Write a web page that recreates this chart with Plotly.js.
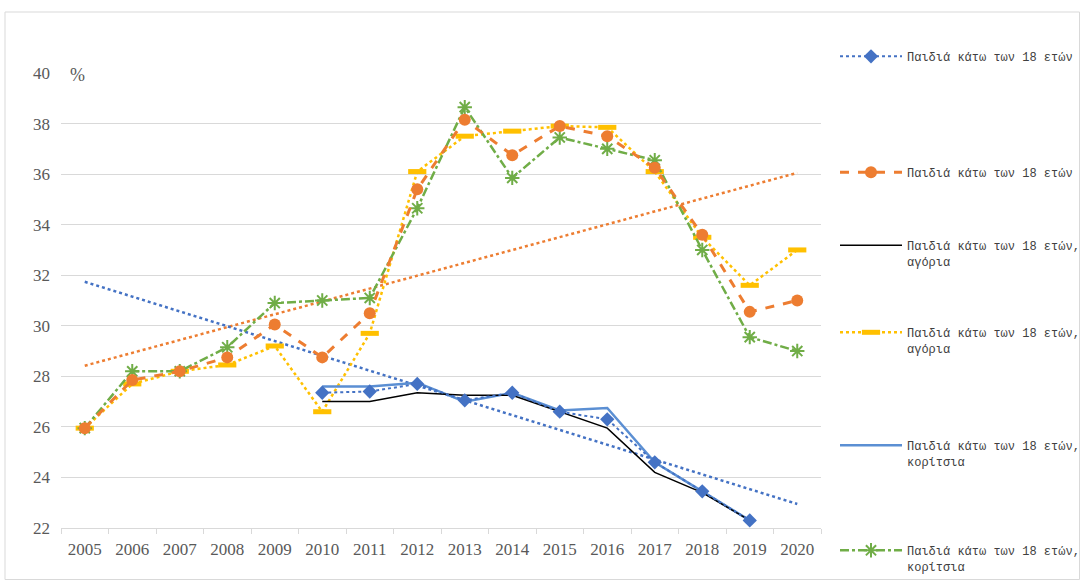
<!DOCTYPE html>
<html><head><meta charset="utf-8">
<script src="https://cdn.plot.ly/plotly-3.0.1.min.js"></script>
<style>html,body{margin:0;padding:0;background:#fff;}#chart{width:1080px;height:580px;}</style>
</head><body><div id="chart"></div>
<script>
const years = ['2005','2006','2007','2008','2009','2010','2011','2012','2013','2014','2015','2016','2017','2018','2019','2020'];
const yearsSub = ['2010','2011','2012','2013','2014','2015','2016','2017','2018','2019'];
const trendYears = ['2005','2020'];

const childrenTotal = [27.35, 27.4, 27.7, 27.05, 27.35, 26.6, 26.3, 24.6, 23.45, 22.3];
const childrenTotal2 = [25.95, 27.85, 28.2, 28.75, 30.05, 28.75, 30.5, 35.4, 38.15, 36.75, 37.9, 37.5, 36.25, 33.6, 30.55, 31.0];
const boysA = [27.0, 27.0, 27.35, 27.25, 27.25, 26.6, 25.95, 24.2, 23.4, 22.3];
const boysB = [25.95, 27.7, 28.2, 28.45, 29.2, 26.6, 29.7, 36.1, 37.5, 37.7, 37.9, 37.85, 36.1, 33.5, 31.6, 33.0];
const girlsA = [27.6, 27.6, 27.75, 27.0, 27.35, 26.65, 26.75, 24.6, 23.45, 22.3];
const girlsB = [25.95, 28.2, 28.2, 29.15, 30.9, 31.0, 31.1, 34.65, 38.65, 35.85, 37.45, 37.0, 36.55, 33.0, 29.55, 29.0];
const trendBlue = [31.74, 22.95];
const trendOrange = [28.42, 36.05];

const name1 = 'Παιδιά κάτω των 18 ετών';
const name3 = 'Παιδιά κάτω των 18 ετών,<br>αγόρια';
const name5 = 'Παιδιά κάτω των 18 ετών,<br>κορίτσια';

const cBlue = '#4472C4', cOrange = '#ED7D31', cYellow = '#FFC000', cGreen = '#70AD47', cBlue2 = '#5B8FD3';

const traces = [
  {x: trendYears, y: trendOrange, mode: 'lines', line: {color: cOrange, width: 2.5, dash: 'dot'}, showlegend: false, hoverinfo: 'skip'},
  {x: trendYears, y: trendBlue, mode: 'lines', line: {color: cBlue, width: 2.5, dash: 'dot'}, showlegend: false, hoverinfo: 'skip'},
  {x: years, y: boysB, name: name3, legend: 'legend4', mode: 'lines+markers', line: {color: cYellow, width: 2.5, dash: 'dot'},
   marker: {symbol: 'line-ew-open', size: 13, color: cYellow, line: {color: cYellow, width: 5}}},
  {x: years, y: girlsB, name: name5, legend: 'legend6', mode: 'lines+markers', line: {color: cGreen, width: 2.5, dash: 'dashdot'},
   marker: {symbol: 'asterisk-open', size: 12, color: cGreen, line: {color: cGreen, width: 2}}},
  {x: years, y: childrenTotal2, name: name1, legend: 'legend2', mode: 'lines+markers', line: {color: cOrange, width: 3, dash: 'dash'},
   marker: {symbol: 'circle', size: 12, color: cOrange}},
  {x: yearsSub, y: girlsA, name: name5, legend: 'legend5', mode: 'lines', line: {color: cBlue2, width: 2.5}},
  {x: yearsSub, y: boysA, name: name3, legend: 'legend3', mode: 'lines', line: {color: '#000000', width: 1.5}},
  {x: yearsSub, y: childrenTotal, name: name1, legend: 'legend', mode: 'lines+markers', line: {color: cBlue, width: 2, dash: 'dot'},
   marker: {symbol: 'diamond', size: 11, color: cBlue}}
];

const L = 61, R = 821, T = 73, B = 528;
function px2x(p){ return (p - L) / (R - L); }
function py2y(p){ return (B - p) / (B - T); }
function leg(yTop){
  return {x: px2x(835), y: py2y(yTop), xanchor: 'left', yanchor: 'top', bgcolor: 'rgba(0,0,0,0)',
    font: {family: 'Liberation Mono, DejaVu Sans Mono, monospace', size: 12, color: '#404040'},
    itemwidth: 62, valign: 'top', tracegroupgap: 0, itemclick: false};
}

const layout = {
  width: 1080, height: 580,
  margin: {l: L, r: 1080 - R, t: T, b: 580 - B, autoexpand: false},
  paper_bgcolor: '#ffffff', plot_bgcolor: '#ffffff',
  xaxis: {type: 'category', categoryorder: 'array', categoryarray: years, range: [-0.5, 15.5],
    showgrid: false, showline: true, linecolor: '#d9d9d9', linewidth: 1,
    ticks: 'outside', tickson: 'boundaries', ticklen: 5, tickcolor: '#d9d9d9',
    tickfont: {family: 'Liberation Serif, Times New Roman, serif', size: 17, color: '#595959'}, ticklabelstandoff: 6, fixedrange: true},
  yaxis: {range: [22, 40], dtick: 2, tick0: 22, showgrid: true, gridcolor: '#d9d9d9', gridwidth: 1,
    zeroline: false, showline: false, ticks: '',
    tickfont: {family: 'Liberation Serif, Times New Roman, serif', size: 17, color: '#595959'}, ticklabelstandoff: 10, fixedrange: true},
  legend: leg(42), legend2: leg(158), legend3: leg(231), legend4: leg(318), legend5: leg(431), legend6: leg(536),
  annotations: [{xref: 'paper', yref: 'paper', x: px2x(68), y: py2y(75), xanchor: 'left', yanchor: 'middle', text: '%', showarrow: false,
    font: {family: 'Liberation Serif, Times New Roman, serif', size: 18, color: '#595959'}}],
  shapes: [{type: 'rect', xref: 'paper', yref: 'paper', x0: px2x(5), x1: px2x(1079.5), y0: py2y(579.5), y1: py2y(12),
    line: {color: '#d9d9d9', width: 1}, fillcolor: 'rgba(0,0,0,0)', layer: 'below'}]
};

Plotly.newPlot('chart', traces, layout, {displayModeBar: false, staticPlot: true});
</script>
</body></html>
